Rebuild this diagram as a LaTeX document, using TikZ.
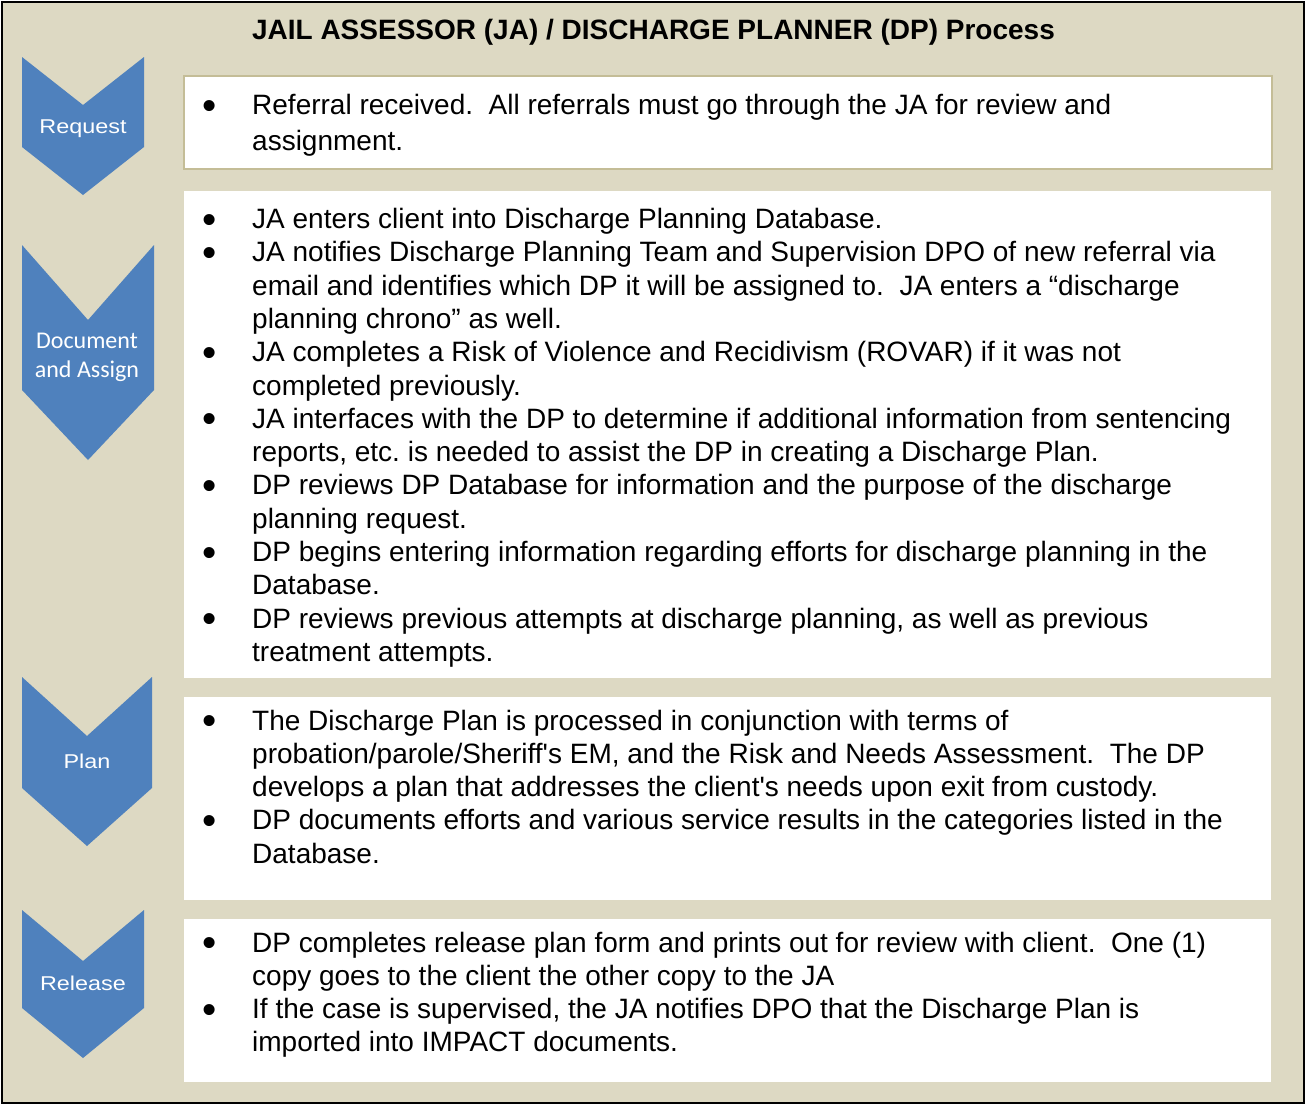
\documentclass[tikz,border=0pt]{standalone}
\usepackage{fontspec}
\setmainfont{Liberation Sans}
\newfontfamily\calib{Carlito}
\usepackage{array}
\definecolor{tanbg}{HTML}{DDD9C3}
\definecolor{tanline}{HTML}{C4BD97}
\definecolor{chev}{HTML}{4F81BD}
\newcommand{\bodyfont}{\fontsize{28}{33.3}\selectfont\frenchspacing}
\newcommand{\twosp}{\ \ }
\newcommand{\bul}{\makebox[9.8pt]{\raisebox{-4.6pt}{\scalebox{1.45}{•}}}}
\begin{document}
\begin{tikzpicture}[x=1pt,y=-1pt,
  bodytext/.style={inner sep=0pt, anchor=base west, font=\bodyfont},
  chevlabel/.style={inner sep=0pt, anchor=base, text=white, font=\fontsize{20}{24}\selectfont},
  chevshape/.style={fill=chev},
  whitebox/.style={fill=white}]
\useasboundingbox (0,0) rectangle (1306,1106);
% frame
\draw[line width=2pt, fill=tanbg] (2,2) rectangle (1304,1103);
% title
\node[inner sep=0pt, anchor=base, font=\fontsize{28}{33}\selectfont\bfseries] (title) at (653.5,39)
  {JAIL ASSESSOR (JA) / DISCHARGE PLANNER (DP) Process};
% boxes
\draw[whitebox, draw=tanline, line width=2pt] (184,76) rectangle (1272,169);
\fill[whitebox] (184,191) rectangle (1271,678);
\fill[whitebox] (184,697) rectangle (1271,900);
\fill[whitebox] (184,919) rectangle (1271,1082);
% chevrons
\fill[chevshape] (22,57) -- (83,105) -- (144,57) -- (144,147) -- (83,195) -- (22,147) -- cycle;
\fill[chevshape] (22,245) -- (88,320) -- (154,245) -- (154,390) -- (88,460) -- (22,390) -- cycle;
\fill[chevshape] (22,677) -- (87,736) -- (152,677) -- (152,788) -- (87,846) -- (22,788) -- cycle;
\fill[chevshape] (22,910) -- (83,961) -- (144,910) -- (144,1008) -- (83,1058) -- (22,1008) -- cycle;
\node[chevlabel] (lreq) at (83,133) {\scalebox{1.17}[1]{Request}};
\node[chevlabel, font=\calib\fontsize{24}{29}\selectfont, align=center] (ldoc) at (87,377) {Document\\and Assign};
\node[chevlabel] (lplan) at (87,768) {\scalebox{1.17}[1]{Plan}};
\node[chevlabel] (lrel) at (83,990) {\scalebox{1.17}[1]{Release}};
% texts
\node[bodytext, font=\fontsize{28}{36}\selectfont\frenchspacing] (t1) at (205,114.5) {\begin{tabular}[t]{@{}c@{\hspace{37.2pt}}l@{}}
\bul & Referral received.\twosp All referrals must go through the JA for review and\\
  & assignment.
\end{tabular}};
\node[bodytext] (t2) at (205,228.5) {\begin{tabular}[t]{@{}c@{\hspace{37.2pt}}l@{}}
\bul & JA enters client into Discharge Planning Database.\\
\bul & JA notifies Discharge Planning Team and Supervision DPO of new referral via\\
  & email and identifies which DP it will be assigned to.\twosp JA enters a “discharge\\
  & planning chrono” as well.\\
\bul & JA completes a Risk of Violence and Recidivism (ROVAR) if it was not\\
  & completed previously.\\
\bul & JA interfaces with the DP to determine if additional information from sentencing\\
  & reports, etc. is needed to assist the DP in creating a Discharge Plan.\\
\bul & DP reviews DP Database for information and the purpose of the discharge\\
  & planning request.\\
\bul & DP begins entering information regarding efforts for discharge planning in the\\
  & Database.\\
\bul & DP reviews previous attempts at discharge planning, as well as previous\\
  & treatment attempts.
\end{tabular}};
\node[bodytext] (t3) at (205,730) {\begin{tabular}[t]{@{}c@{\hspace{37.2pt}}l@{}}
\bul & The Discharge Plan is processed in conjunction with terms of\\
  & probation/parole/Sheriff\textquotesingle s EM, and the Risk and Needs Assessment.\twosp The DP\\
  & develops a plan that addresses the client\textquotesingle s needs upon exit from custody.\\
\bul & DP documents efforts and various service results in the categories listed in the\\
  & Database.
\end{tabular}};
\node[bodytext] (t4) at (205,952) {\begin{tabular}[t]{@{}c@{\hspace{37.2pt}}l@{}}
\bul & DP completes release plan form and prints out for review with client.\twosp One (1)\\
  & copy goes to the client the other copy to the JA\\
\bul & If the case is supervised, the JA notifies DPO that the Discharge Plan is\\
  & imported into IMPACT documents.
\end{tabular}};
\end{tikzpicture}
\end{document}
